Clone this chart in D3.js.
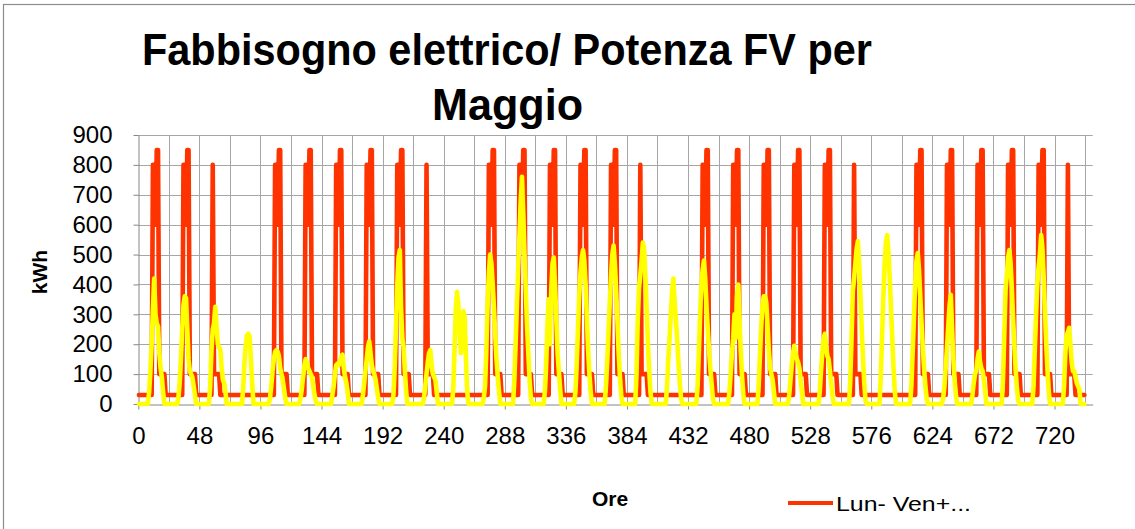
<!DOCTYPE html>
<html><head><meta charset="utf-8">
<script src="https://cdn.jsdelivr.net/npm/d3@7"></script>
<style>
html,body{margin:0;padding:0;background:#fff;}
svg{display:block;}
</style></head>
<body>
<svg id="chart" width="1135" height="529"></svg>
<script>
// ---------------- DATA ----------------
const titleLines = ["Fabbisogno elettrico/ Potenza FV per", "Maggio"];
const yAxisTitle = "kWh";
const xAxisTitle = "Ore";
const legendLabel = "Lun- Ven+...";
const yTicks = [0,100,200,300,400,500,600,700,800,900];
const xTicks = [0,48,96,144,192,240,288,336,384,432,480,528,576,624,672,720];

// day types for May: W = weekday, S = Saturday, D = Sunday
const dayTypes = ["W","W","S","D","W","W","W","W","W","S","D","W","W","W","W","W","S","D","W","W","W","W","W","S","D","W","W","W","W","W","S"];

// hourly demand profiles (kWh)
const demandWeekday  = [30,30,30,30,30,30,30,30,30,30,30,800,800,600,850,850,100,100,100,100,100,30,30,30];
const demandSaturday = [30,30,30,30,30,30,30,30,30,30,800,100,100,100,100,100,30,30,30,30,30,30,30,30];
const demandSunday   = [30,30,30,30,30,30,30,30,30,30,30,30,30,30,30,30,30,30,30,30,30,30,30,30];

// hourly PV power per day (kWh)
const pvDays = [
 [0,0,0,0,0,0,0,0,40,110,200,320,420,300,270,260,170,120,90,40,0,0,0,0],
 [0,0,0,0,0,0,0,20,70,150,250,330,360,355,250,150,110,100,90,60,30,0,0,0],
 [0,0,0,0,0,0,0,0,60,180,250,270,325,260,200,190,180,120,80,70,40,0,0,0],
 [0,0,0,0,0,0,0,0,0,0,60,140,200,230,235,225,150,70,0,0,0,0,0,0],
 [0,0,0,0,0,0,0,20,60,110,150,175,180,175,160,120,100,80,50,20,0,0,0,0],
 [0,0,0,0,0,0,0,20,50,90,130,150,140,120,110,100,90,60,30,10,0,0,0,0],
 [0,0,0,0,0,0,0,0,30,60,100,130,135,130,140,160,165,120,90,70,40,0,0,0],
 [0,0,0,0,0,0,0,0,30,70,110,150,190,210,170,130,110,100,80,50,20,0,0,0],
 [0,0,0,0,0,0,0,0,30,120,260,400,490,515,320,220,190,110,40,0,0,0,0,0],
 [0,0,0,0,0,0,0,0,20,60,100,140,170,180,130,100,90,80,40,0,0,0,0,0],
 [0,0,0,0,0,0,0,50,180,320,375,330,250,170,280,310,290,150,40,0,0,0,0,0],
 [0,0,0,0,0,0,0,20,60,180,330,440,500,470,400,320,230,150,90,40,0,0,0,0],
 [0,0,0,0,0,0,0,80,200,330,450,560,680,760,640,500,380,260,170,80,20,0,0,0],
 [0,0,0,0,0,0,0,40,130,260,350,200,380,470,490,400,280,170,110,50,0,0,0,0],
 [0,0,0,0,0,0,0,40,130,250,360,440,490,515,480,400,290,180,100,40,0,0,0,0],
 [0,0,0,0,0,0,0,60,140,240,340,430,500,530,470,380,280,170,90,30,0,0,0,0],
 [0,0,0,0,0,0,0,100,280,390,430,480,540,520,430,320,200,110,40,0,0,0,0,0],
 [0,0,0,0,0,0,0,60,150,220,300,380,420,340,280,210,140,70,20,0,0,0,0,0],
 [0,0,0,0,0,0,0,60,170,300,400,450,480,420,330,250,180,120,70,20,0,0,0,0],
 [0,0,0,0,0,0,0,0,40,100,170,220,300,220,360,400,280,170,90,30,0,0,0,0],
 [0,0,0,0,0,0,0,60,160,260,330,360,360,340,260,180,120,100,80,40,0,0,0,0],
 [0,0,0,0,0,0,0,30,80,130,170,195,170,150,140,120,80,40,0,0,0,0,0,0],
 [0,0,0,0,0,0,0,40,110,170,220,235,190,160,150,110,70,30,0,0,0,0,0,0],
 [0,0,0,0,0,0,0,80,220,380,420,470,520,545,470,360,250,150,70,10,0,0,0,0],
 [0,0,0,0,0,0,0,100,230,360,470,540,565,510,420,320,220,120,40,0,0,0,0,0],
 [0,0,0,0,0,0,0,60,170,290,400,480,505,450,360,270,190,120,60,20,0,0,0,0],
 [0,0,0,0,0,0,0,0,20,60,120,190,260,330,365,250,150,80,30,0,0,0,0,0],
 [0,0,0,0,0,0,0,30,70,100,110,150,175,140,120,110,80,40,0,0,0,0,0,0],
 [0,0,0,0,0,0,0,80,230,380,430,490,515,470,380,280,190,110,50,10,0,0,0,0],
 [0,0,0,0,0,0,0,60,180,300,400,460,500,565,520,420,310,200,110,40,0,0,0,0],
 [0,0,0,0,0,0,0,60,170,230,240,255,200,140,110,110,90,70,60,50,0,0,0,0]
];

// ---------------- BUILD SERIES ----------------
const profiles = {W: demandWeekday, S: demandSaturday, D: demandSunday};
const demand = dayTypes.flatMap(t => profiles[t]);
const pv = pvDays.flat();

// ---------------- LAYOUT ----------------
const svg = d3.select("#chart");
const plot = {left: 138.3, right: 1092.7, top: 135, bottom: 404};
const nCats = 750;
const x = d3.scaleLinear().domain([0, nCats]).range([plot.left, plot.right]);
const y = d3.scaleLinear().domain([0, 900]).range([plot.bottom, plot.top]);
const gridColor = "#a6a6a6";
const axisColor = "#868686";
const font = "'Liberation Sans', Arial, sans-serif";

svg.append("rect").attr("x",0).attr("y",0).attr("width",1135).attr("height",529).attr("fill","#fff");
// chart border
svg.append("rect").attr("x",3.5).attr("y",4.5).attr("width",1200).attr("height",600)
  .attr("fill","none").attr("stroke","#8c8c8c").attr("stroke-width",1.2);

// title
svg.append("text").attr("x",507).attr("y",65).attr("text-anchor","middle")
  .attr("font-family",font).attr("font-weight","bold").attr("font-size",45)
  .attr("textLength",730).attr("lengthAdjust","spacingAndGlyphs").text(titleLines[0]);
svg.append("text").attr("x",507.5).attr("y",120).attr("text-anchor","middle")
  .attr("font-family",font).attr("font-weight","bold").attr("font-size",45)
  .attr("textLength",151).attr("lengthAdjust","spacingAndGlyphs").text(titleLines[1]);

// horizontal gridlines
svg.append("g").selectAll("line").data(yTicks.filter(d=>d>0)).join("line")
  .attr("x1",plot.left).attr("x2",plot.right)
  .attr("y1",d=>Math.round(y(d))+0.5).attr("y2",d=>Math.round(y(d))+0.5)
  .attr("stroke",gridColor).attr("stroke-width",1);
// vertical gridlines every 24 h
const vGrid = d3.range(24, 745, 24);
svg.append("g").selectAll("line").data(vGrid).join("line")
  .attr("x1",d=>Math.round(x(d))+0.5).attr("x2",d=>Math.round(x(d))+0.5)
  .attr("y1",plot.top).attr("y2",plot.bottom)
  .attr("stroke",gridColor).attr("stroke-width",1);

// axes
const yAxis = d3.axisLeft(y).tickValues(yTicks).tickSize(5).tickSizeOuter(0).tickPadding(21);
const gy = svg.append("g").attr("transform",`translate(${Math.round(plot.left)+0.5},0)`).call(yAxis);
gy.select(".domain").attr("stroke",axisColor);
gy.selectAll(".tick line").attr("stroke",axisColor);
gy.selectAll(".tick text").attr("font-family",font).attr("font-size",24).attr("fill","#000");

const xAxis = d3.axisBottom(x).tickValues(xTicks).tickSize(5).tickSizeOuter(0).tickPadding(17).tickFormat(d3.format("d"));
const gx = svg.append("g").attr("transform",`translate(0,${plot.bottom+0.5})`).call(xAxis);
gx.select(".domain").attr("stroke",axisColor);
gx.selectAll(".tick line").attr("stroke",axisColor);
gx.selectAll(".tick text").attr("font-family",font).attr("font-size",24).attr("fill","#000");

// series
const line = d3.line().x((d,i)=>x(i+0.5)).y(d=>y(d));
svg.append("path").datum(demand).attr("d",line).attr("fill","none")
  .attr("stroke","#ff3300").attr("stroke-width",4.6).attr("stroke-linejoin","round").attr("stroke-linecap","round");
svg.append("path").datum(pv).attr("d",line).attr("fill","none")
  .attr("stroke","#ffff00").attr("stroke-width",4.6).attr("stroke-linejoin","round").attr("stroke-linecap","round");

// axis titles
svg.append("text").attr("transform","translate(47,272) rotate(-90)").attr("text-anchor","middle")
  .attr("font-family",font).attr("font-weight","bold").attr("font-size",21).text(yAxisTitle);
svg.append("text").attr("x",610).attr("y",506).attr("text-anchor","middle")
  .attr("font-family",font).attr("font-weight","bold").attr("font-size",21).text(xAxisTitle);

// legend
svg.append("line").attr("x1",788).attr("x2",833).attr("y1",503).attr("y2",503)
  .attr("stroke","#ff3300").attr("stroke-width",4);
svg.append("text").attr("x",836).attr("y",510.5).attr("font-family",font).attr("font-size",21)
  .attr("textLength",135).attr("lengthAdjust","spacingAndGlyphs").text(legendLabel);
</script>
</body></html>
